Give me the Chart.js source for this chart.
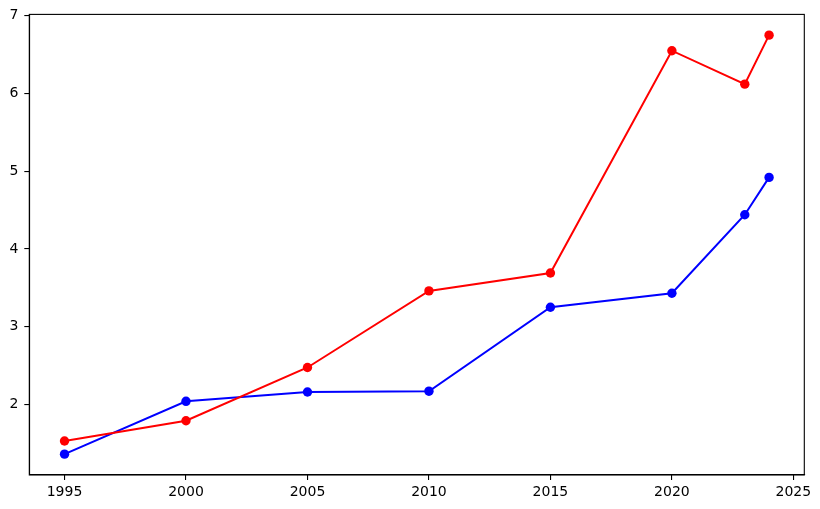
<!DOCTYPE html>
<html>
<head>
<meta charset="utf-8">
<script src="https://cdn.jsdelivr.net/npm/chart.js@4/dist/chart.umd.min.js"></script>
<style>
  html, body { margin: 0; padding: 0; background: #fff; }
  #wrap { width: 820px; height: 509px; position: relative; }
</style>
</head>
<body>
<div id="wrap"><canvas id="lineChart"></canvas></div>
<script>
const years = [1995, 2000, 2005, 2010, 2015, 2020, 2023, 2024];
const redValues = [1.53, 1.79, 2.475, 3.46, 3.69, 6.55, 6.12, 6.75];
const blueValues = [1.36, 2.04, 2.16, 2.17, 3.25, 3.43, 4.44, 4.92];
const xTicks = [1995, 2000, 2005, 2010, 2015, 2020, 2025];
const yTicks = [2, 3, 4, 5, 6, 7];

const toPoints = vals => years.map((yr, i) => ({ x: yr, y: vals[i] }));

// draws the full box around the plot, like matplotlib spines
const framePlugin = {
    id: 'frame',
    afterDraw(chart) {
        const { ctx, chartArea: a } = chart;
        ctx.save();
        ctx.strokeStyle = '#000';
        ctx.lineWidth = 1.1;
        ctx.strokeRect(a.left, a.top, a.right - a.left, a.bottom - a.top);
        ctx.restore();
    }
};

const tickFont = { family: 'DejaVu Sans', size: 14 };

new Chart(document.getElementById('lineChart').getContext('2d'), {
    type: 'line',
    data: {
        datasets: [
            {
                data: toPoints(redValues),
                borderColor: '#ff0000',
                backgroundColor: '#ff0000',
                borderWidth: 2,
                pointRadius: 4.7,
                pointBorderWidth: 0,
                pointHoverRadius: 4.7,
                tension: 0
            },
            {
                data: toPoints(blueValues),
                borderColor: '#0000ff',
                backgroundColor: '#0000ff',
                borderWidth: 2,
                pointRadius: 4.7,
                pointBorderWidth: 0,
                pointHoverRadius: 4.7,
                tension: 0
            }
        ]
    },
    options: {
        responsive: true,
        maintainAspectRatio: false,
        animation: false,
        layout: { padding: { top: 13.7, right: 15.7, left: 0, bottom: 0 } },
        plugins: {
            legend: { display: false },
            tooltip: { enabled: false }
        },
        scales: {
            x: {
                type: 'linear',
                min: 1993.55,
                max: 2025.45,
                afterBuildTicks: s => { s.ticks = xTicks.map(v => ({ value: v })); },
                afterFit: s => { s.height = 34; },
                grid: { drawOnChartArea: false, drawTicks: true, tickLength: 5, color: '#000', lineWidth: 1.1 },
                border: { color: '#000', width: 1.1 },
                ticks: { color: '#000', font: tickFont, padding: 4, maxRotation: 0, callback: v => String(v) }
            },
            y: {
                min: 1.092,
                max: 7.017,
                afterBuildTicks: s => { s.ticks = yTicks.map(v => ({ value: v })); },
                afterFit: s => { s.width = 29.3; },
                grid: { drawOnChartArea: false, drawTicks: true, tickLength: 5, color: '#000', lineWidth: 1.1 },
                border: { color: '#000', width: 1.1 },
                ticks: { color: '#000', font: tickFont, padding: 6, callback: v => String(v) }
            }
        }
    },
    plugins: [framePlugin]
});
</script>
</body>
</html>
